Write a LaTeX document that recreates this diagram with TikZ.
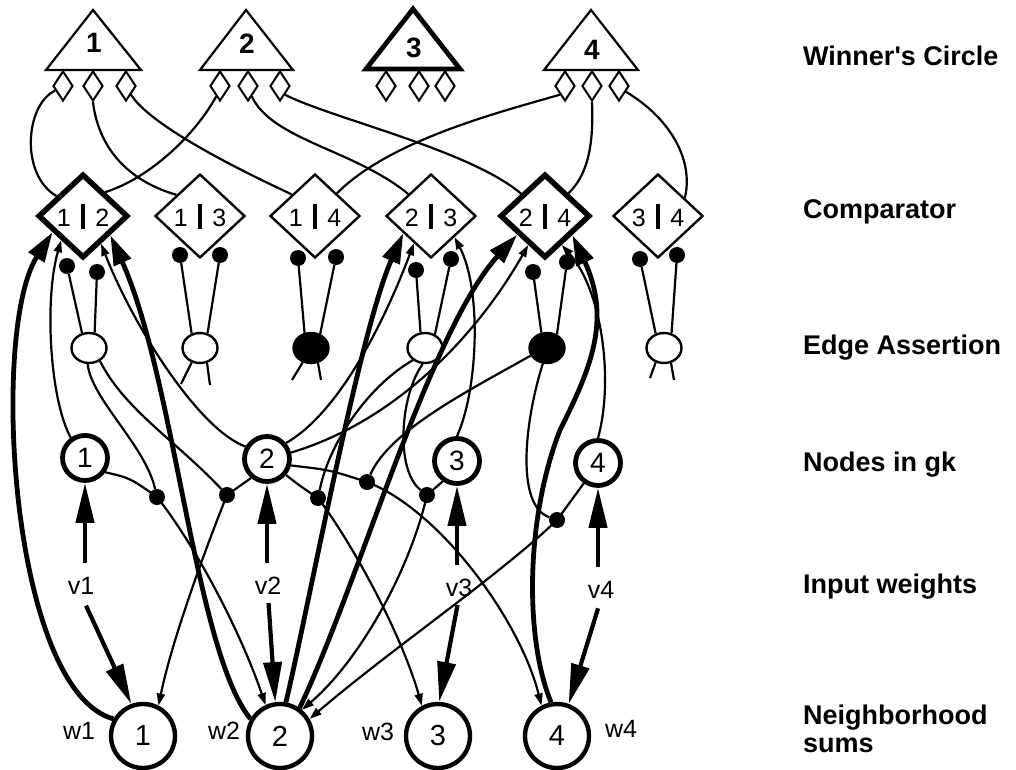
\documentclass[tikz,border=0pt]{standalone}
\usepackage{fontspec}
\setmainfont{Liberation Sans}
\usetikzlibrary{shapes.geometric,arrows.meta}
% thick divider between the two indices of a comparator
\newcommand{\cmpbar}{\hspace{10pt}\rule[-2pt]{4.5pt}{25pt}\hspace{10pt}}
\begin{document}
\begin{tikzpicture}[x=1pt,y=-1pt,
  wire/.style={line width=2.2pt},
  heavy/.style={line width=4.8pt},
  shaft/.style={line width=4.2pt},
  smallhead/.style={-{Triangle[length=12pt,width=8pt]}},
  bighead/.style={-{Triangle[length=30pt,width=18pt]}},
  inhead/.style={-{Triangle[length=40pt,width=18pt]}},
  tri/.style={line width=2.2pt, fill=white, line join=miter},
  tribold/.style={tri, line width=4.8pt},
  trilabel/.style={font=\fontsize{28}{28}\selectfont\bfseries, inner sep=0pt},
  port/.style={diamond, draw, line width=2pt, fill=white, minimum width=20pt, minimum height=30pt, inner sep=0pt},
  cmp/.style={diamond, draw, line width=2.4pt, fill=white, minimum width=90pt, minimum height=84pt, inner sep=0pt, font=\fontsize{25}{25}\selectfont},
  cmpwin/.style={cmp, line width=5.5pt},
  assert/.style={ellipse, draw, line width=2.4pt, fill=white, minimum width=35pt, minimum height=30pt, inner sep=0pt},
  assertwin/.style={assert, fill=black},
  syn/.style={circle, fill=black, minimum size=16pt, inner sep=0pt},
  gknode/.style={circle, draw, line width=4.8pt, fill=white, minimum size=45pt, inner sep=0pt, font=\fontsize{28}{28}\selectfont},
  sumnode/.style={circle, draw, line width=4.4pt, fill=white, minimum size=64pt, inner sep=0pt, font=\fontsize{29}{29}\selectfont},
  wlabel/.style={inner sep=0pt, font=\fontsize{25}{25}\selectfont},
  rowlabel/.style={anchor=base west, inner sep=0pt, font=\fontsize{27}{27}\selectfont\bfseries},
]
\useasboundingbox (0,0) rectangle (1016,770);

% ---------------- winner's circle ----------------
\draw[tri] (93,10) -- (141,70) -- (46,70) -- cycle;
\draw[tri] (246,10) -- (293,70) -- (200,70) -- cycle;
\draw[tribold] (413,9) -- (460,69) -- (366,69) -- cycle;
\draw[tri] (591,10) -- (638,70) -- (544,70) -- cycle;
\node[trilabel] (win1) at (94,43) {1};
\node[trilabel] (win2) at (247,44) {2};
\node[trilabel] (win3) at (414,48) {3};
\node[trilabel] (win4) at (592,50) {4};

\node[port] (p1a) at (63,86) {};
\node[port] (p1b) at (93,86) {};
\node[port] (p1c) at (126,86) {};
\node[port] (p2a) at (220,86) {};
\node[port] (p2b) at (248,86) {};
\node[port] (p2c) at (280,86) {};
\node[port] (p3a) at (386,86) {};
\node[port] (p3b) at (419,86) {};
\node[port] (p3c) at (445,86) {};
\node[port] (p4a) at (565,86) {};
\node[port] (p4b) at (592,86) {};
\node[port] (p4c) at (619,86) {};

% ---------------- comparators ----------------
\node[cmpwin] (c12) at (83,216) {1\cmpbar 2};
\node[cmp]    (c13) at (200,216) {1\cmpbar 3};
\node[cmp]    (c14) at (315,216) {1\cmpbar 4};
\node[cmp]    (c23) at (431,216) {2\cmpbar 3};
\node[cmpwin] (c24) at (545,216) {2\cmpbar 4};
\node[cmp]    (c34) at (658,216) {3\cmpbar 4};

% ---------------- edge assertion ----------------
\node[syn] (a12) at (67,266) {};
\node[syn] (b12) at (97,272) {};
\node[syn] (a13) at (180,255) {};
\node[syn] (b13) at (220,255) {};
\node[syn] (a14) at (298,258) {};
\node[syn] (b14) at (336,257) {};
\node[syn] (a23) at (416,270) {};
\node[syn] (b23) at (451,259) {};
\node[syn] (a24) at (533,272) {};
\node[syn] (b24) at (567,262) {};
\node[syn] (a34) at (640,259) {};
\node[syn] (b34) at (677,255) {};

\node[assert]    (e12) at (89,348) {};
\node[assert]    (e13) at (200,348) {};
\node[assertwin] (e14) at (311,348) {};
\node[assert]    (e23) at (425,348) {};
\node[assertwin] (e24) at (547,348) {};
\node[assert]    (e34) at (664,348) {};

\coordinate (s13a) at (181,384);
\coordinate (s13b) at (210,385);
\coordinate (s14a) at (292,380);
\coordinate (s14b) at (321,380);
\coordinate (s34a) at (650,378);
\coordinate (s34b) at (674,380);

% ---------------- nodes in gk ----------------
\node[gknode] (n1) at (85,458) {1};
\node[gknode] (n2) at (267,459) {2};
\node[gknode] (n3) at (457,461) {3};
\node[gknode] (n4) at (598,463) {4};

% gating synapses on the lateral links
\node[syn] (g1) at (157,497) {};
\node[syn] (g2) at (227,495) {};
\node[syn] (g3) at (318,498) {};
\node[syn] (g4) at (367,482) {};
\node[syn] (g5) at (427,495) {};
\node[syn] (g6) at (557,520) {};

% ---------------- input weights ----------------
\node[wlabel] (v1) at (81,586) {v1};
\node[wlabel] (v2) at (268,586) {v2};
\node[wlabel] (v3) at (459,588) {v3};
\node[wlabel] (v4) at (601,590) {v4};

% ---------------- neighborhood sums ----------------
\node[sumnode] (w1) at (143,736) {1};
\node[sumnode] (w2) at (280,736) {2};
\node[sumnode] (w3) at (438,736) {3};
\node[sumnode] (w4) at (557,736) {4};
\node[wlabel] (lw1) at (79,731) {w1};
\node[wlabel] (lw2) at (224,731) {w2};
\node[wlabel] (lw3) at (378,732) {w3};
\node[wlabel] (lw4) at (621,729) {w4};

% ---------------- row captions ----------------
\node[rowlabel] (r1) at (803,66) {Winner\textquotesingle s Circle};
\node[rowlabel] (r2) at (803,218) {Comparator};
\node[rowlabel] (r3) at (803,354) {Edge Assertion};
\node[rowlabel] (r4) at (803,471) {Nodes in gk};
\node[rowlabel] (r5) at (803,593) {Input weights};
\node[rowlabel] (r6) at (803,724) {Neighborhood};
\node[rowlabel] (r7) at (803,752) {sums};

% ---------------- comparators to winner's circle ----------------
\draw[wire] (p1a.210) .. controls (25,105) and (20,175) .. (c12.143);
\draw[wire] (p1b.south) .. controls (98,145) and (125,180) .. (c13.138);
\draw[wire] (p1c.300) .. controls (150,125) and (235,168) .. (c14.137);
\draw[wire] (p2a.250) .. controls (195,135) and (150,178) .. (c12.47);
\draw[wire] (p2b.290) .. controls (272,140) and (355,150) .. (c23.136);
\draw[wire] (p2c.300) .. controls (330,118) and (470,150) .. (c24.137);
\draw[wire] (p4a.240) .. controls (500,112) and (390,140) .. (c14.46);
\draw[wire] (p4b.south) .. controls (594,150) and (586,176) .. (c24.44);
\draw[wire] (p4c.320) .. controls (670,118) and (694,160) .. (c34.34);

% ---------------- synapses to edge assertion units ----------------
\draw[wire] (a12) -- (e12.115);
\draw[wire] (b12) -- (e12.70);
\draw[wire] (a13) -- (e13.120);
\draw[wire] (b13) -- (e13.63);
\draw[wire] (a14) -- (e14.113);
\draw[wire] (b14) -- (e14.57);
\draw[wire] (a23) -- (e23.106);
\draw[wire] (b23) -- (e23.54);
\draw[wire] (a24) -- (e24.110);
\draw[wire] (b24) -- (e24.54);
\draw[wire] (a34) -- (e34.120);
\draw[wire] (b34) -- (e34.63);

\draw[wire] (e13.240) -- (s13a);
\draw[wire] (e13.295) -- (s13b);
\draw[wire] (e14.240) -- (s14a);
\draw[wire] (e14.295) -- (s14b);
\draw[wire] (e34.240) -- (s34a);
\draw[wire] (e34.295) -- (s34b);

% edge assertion units gating the lateral links
\draw[wire] (e12.265) .. controls (92,400) and (145,445) .. (g1);
\draw[wire] (e12.310) .. controls (125,410) and (175,440) .. (g2);
\draw[wire] (e23.225) .. controls (370,385) and (330,440) .. (g3);
\draw[wire] (e23.262) .. controls (400,395) and (395,470) .. (g5);
\draw[wire] (e24.205) .. controls (470,390) and (390,430) .. (g4);
\draw[wire] (e24.255) .. controls (525,420) and (515,505) .. (g6);

% ---------------- gk nodes to comparators ----------------
\draw[wire,smallhead] (n1.125) .. controls (50,400) and (44,300) .. (c12.228);
\draw[wire,smallhead] (n2.150) .. controls (200,430) and (135,330) .. (c12.303);
\draw[wire,smallhead] (n2.40) .. controls (340,412) and (385,320) .. (c23.238);
\draw[wire,smallhead] (n3.north) .. controls (478,390) and (482,290) .. (c23.318);
\draw[wire,smallhead] (n2.15) .. controls (400,420) and (480,330) .. (c24.240);
\draw[wire,smallhead] (n4.north) .. controls (614,380) and (602,290) .. (c24.300);

% ---------------- neighborhood sums to comparators ----------------
\draw[heavy,bighead] (w1.150) .. controls (10,690) and (-10,330) .. (c12.208);
\draw[heavy,bighead] (w2.150) .. controls (195,650) and (175,380) .. (c12.325);
\draw[heavy,bighead] (w2.80) .. controls (310,600) and (360,330) .. (c23.212);
\draw[heavy,bighead] (w2.55) .. controls (360,580) and (430,330) .. (c24.214);
\draw[heavy,bighead] (w4.100) .. controls (525,640) and (525,520) .. (560,430)
                     .. controls (590,370) and (612,320) .. (c24.325);

% ---------------- lateral links gk -> neighborhood sums ----------------
\draw[wire,smallhead] (n1.325) .. controls (130,478) .. (g1.center)
                      .. controls (195,545) and (240,630) .. (w2.115);
\draw[wire,smallhead] (n2.230) -- (g2.center)
                      .. controls (205,550) and (172,640) .. (w1.63);
\draw[wire,smallhead] (n2.320) .. controls (300,486) .. (g3.center)
                      .. controls (350,540) and (400,630) .. (w3.118);
\draw[wire,smallhead] (n2.345) .. controls (330,470) .. (g4.center)
                      .. controls (440,510) and (520,620) .. (w4.117);
\draw[wire,smallhead] (n3.235) -- (g5.center)
                      .. controls (410,570) and (360,660) .. (w2.50);
\draw[wire,smallhead] (n4.235) -- (g6.center)
                      .. controls (500,575) and (390,650) .. (w2.30);

% ---------------- input weights ----------------
\draw[shaft,inhead,shorten <=14pt] (v1.north -| n1) -- (n1.south);
\draw[shaft,inhead,shorten <=14pt] (v2.north -| n2) -- (n2.south);
\draw[shaft,inhead,shorten <=14pt] (v3.north -| n3) -- (n3.south);
\draw[shaft,inhead,shorten <=14pt] (v4.north -| n4) -- (n4.south);
\draw[shaft,inhead,shorten <=12pt] (v1.south) -- (w1.110);
\draw[shaft,inhead,shorten <=8pt] (v2.south) -- (w2.98);
\draw[shaft,inhead,shorten <=8pt] (v3.south) -- (w3.88);
\draw[shaft,inhead,shorten <=10pt] (v4.south) -- (w4.70);
\end{tikzpicture}
\end{document}
